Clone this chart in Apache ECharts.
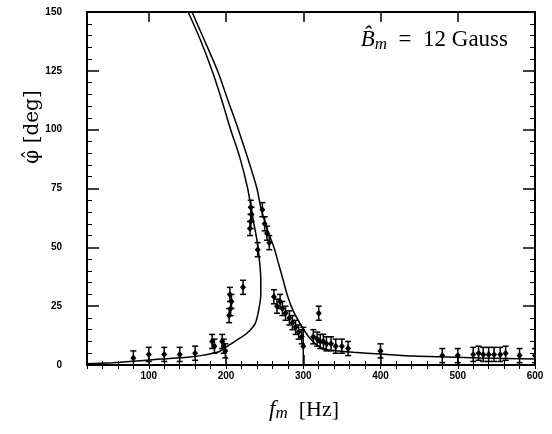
<!DOCTYPE html>
<html>
<head>
<meta charset="utf-8">
<script src="https://cdn.jsdelivr.net/npm/echarts@6/dist/echarts.min.js"></script>
<style>html,body{margin:0;padding:0;background:#fff;}#c{width:552px;height:434px;}</style>
</head>
<body>
<div id="c"></div>
<script>
// x tick labels and y ticks
const xTickValues = [100, 200, 300, 400, 500, 600];
const yTickValues = [0, 25, 50, 75, 100, 125, 150];

// measured data points: frequency (Hz), phase (deg), error (deg)
const pointF = [80,100,120,140,160,182,185,195,197,199,205,207,206,204,222,232,233,232,231,241,247,250,253,256,262,266,270,273,277,282,286,290,294,298,300,313,318,320,322,326,330,336,342,350,358,400,480,500,520,527,533,540,547,555,562,580,600];
const pointPhi = [3,4.5,4.5,4.5,5,10,8,10,8,6,30,27,24,21,33,67,64,61,58,49,66,60,56,52,29,25,27,24,22,20,18,16,14,12,8,12,11,22,10,10,9,9,8,8,7,6,4,4,4.5,5,4.5,4.5,4.5,4.5,5,4,4];
const pointErr = [3,3,3,3,3,3,3,3,3,3,3,3,3,3,3,3,3,3,3,3,3,3,3,3,3,3,3,3,3,3,3,3,3,3,8,3,3,3,3,3,3,3,3,3,3,3,3,3,3,3,3,3,3,3,3,3,3];

// model curve 1 (folded branch)
const curve1F = [20,54,80,115,150,171,190,201,214,227,238,243,245,245,244,240,235,228,218,206,195,182,167,151];
const curve1Phi = [0.5,1,1.6,2.5,3.3,4.2,5.5,7.8,10.6,13.5,17.8,24.7,30,36,42,53,62,75,88,100,112,125,138,150];
// model curve 2
const curve2F = [156,172,189,203,216,229,240,245,253,262,268,274,280,287,297,307,316,326,345,365,400,443,487,530,600];
const curve2Phi = [150,138,125,112,100,87,75,67,58,50,43,36,29,23,17,12,9,6.8,6,5.4,4.7,3.8,3.4,3.0,2.5];

const labelFont = {fontFamily:'Liberation Sans', fontWeight:'bold', fontSize:10, color:'#000'};
const chart = echarts.init(document.getElementById('c'));

function majorX(pos, showLabel){
  return {type:'value', min:20, max:600, position:pos,
    axisLine:{show:true, onZero:false, lineStyle:{color:'#000', width:2}},
    axisTick:{show:true, inside:true, length:10, customValues:xTickValues, lineStyle:{color:'#000', width:1.5}},
    axisLabel:Object.assign({show:showLabel, customValues:xTickValues, margin:6}, labelFont),
    splitLine:{show:false}};
}
function minorX(pos){
  return {type:'value', min:20, max:600, interval:20, position:pos,
    axisLine:{show:false},
    axisTick:{show:true, inside:true, length:4, lineStyle:{color:'#000', width:1}},
    axisLabel:{show:false}, splitLine:{show:false}};
}
function yAx(pos, showLabel){
  return {type:'value', min:0, max:150, interval:25, position:pos,
    axisLine:{show:true, onZero:false, lineStyle:{color:'#000', width:2}},
    axisTick:{show:true, inside:true, length:12, lineStyle:{color:'#000', width:1.5}},
    minorTick:{show:true, splitNumber:5, length:5, lineStyle:{color:'#000', width:1}},
    axisLabel:Object.assign({show:showLabel, margin:25}, labelFont),
    splitLine:{show:false}, minorSplitLine:{show:false}};
}

const pts = pointF.map((f,i)=>[f, pointPhi[i], pointErr[i]]);

chart.setOption({
  animation:false,
  backgroundColor:'#fff',
  grid:{left:87, right:17, top:12, bottom:69},
  xAxis:[majorX('bottom', true), minorX('bottom'), majorX('top', false), minorX('top')],
  yAxis:[yAx('left', true), yAx('right', false)],
  series:[
    {type:'line', xAxisIndex:0, yAxisIndex:0, data:curve1F.map((f,i)=>[f,curve1Phi[i]]), showSymbol:false, smooth:0.25,
      lineStyle:{color:'#000', width:1.5}},
    {type:'line', xAxisIndex:0, yAxisIndex:0, data:curve2F.map((f,i)=>[f,curve2Phi[i]]), showSymbol:false, smooth:0.25,
      lineStyle:{color:'#000', width:1.5}},
    {type:'custom', xAxisIndex:0, yAxisIndex:0, clip:true, data:pts,
      renderItem:function(params, api){
        const x=api.value(0), y=api.value(1), e=api.value(2);
        const lo=api.coord([x, Math.max(0,y-e)]), hi=api.coord([x, y+e]), c=api.coord([x,y]);
        const w=3, s=3;
        const st={stroke:'#000', lineWidth:1.5};
        return {type:'group', children:[
          {type:'line', shape:{x1:lo[0],y1:lo[1],x2:hi[0],y2:hi[1]}, style:st},
          {type:'line', shape:{x1:lo[0]-w,y1:lo[1],x2:lo[0]+w,y2:lo[1]}, style:st},
          {type:'line', shape:{x1:hi[0]-w,y1:hi[1],x2:hi[0]+w,y2:hi[1]}, style:st},
          {type:'polygon', shape:{points:[[c[0],c[1]-s-0.5],[c[0]+s,c[1]],[c[0],c[1]+s+0.5],[c[0]-s,c[1]]]}, style:{fill:'#000'}}
        ]};
      }}
  ],
  graphic:[
    {type:'text', x:33, y:127, rotation:Math.PI/2, style:{text:'\u03C6\u0302 [deg]', font:'20px "DejaVu Serif"', fill:'#000', align:'center', verticalAlign:'middle'}},
    {type:'text', x:304, y:410, style:{
      text:'{i|f}{s|m}{r|  [Hz]}', align:'center', verticalAlign:'middle',
      rich:{i:{font:'italic 23px "Liberation Serif"', fill:'#000'}, s:{font:'italic 17px "Liberation Serif"', fill:'#000', padding:[8,0,0,0]}, r:{font:'22px "Liberation Serif"', fill:'#000'}}}},
    {type:'text', x:508, y:40, style:{
      text:'{i|B\u0302}{s|m}{r|  =  12 Gauss}', align:'right', verticalAlign:'middle',
      rich:{i:{font:'italic 23px "Liberation Serif"', fill:'#000'}, s:{font:'italic 17px "Liberation Serif"', fill:'#000', padding:[9,0,0,0]}, r:{font:'23px "Liberation Serif"', fill:'#000'}}}}
  ]
});
</script>
</body>
</html>
